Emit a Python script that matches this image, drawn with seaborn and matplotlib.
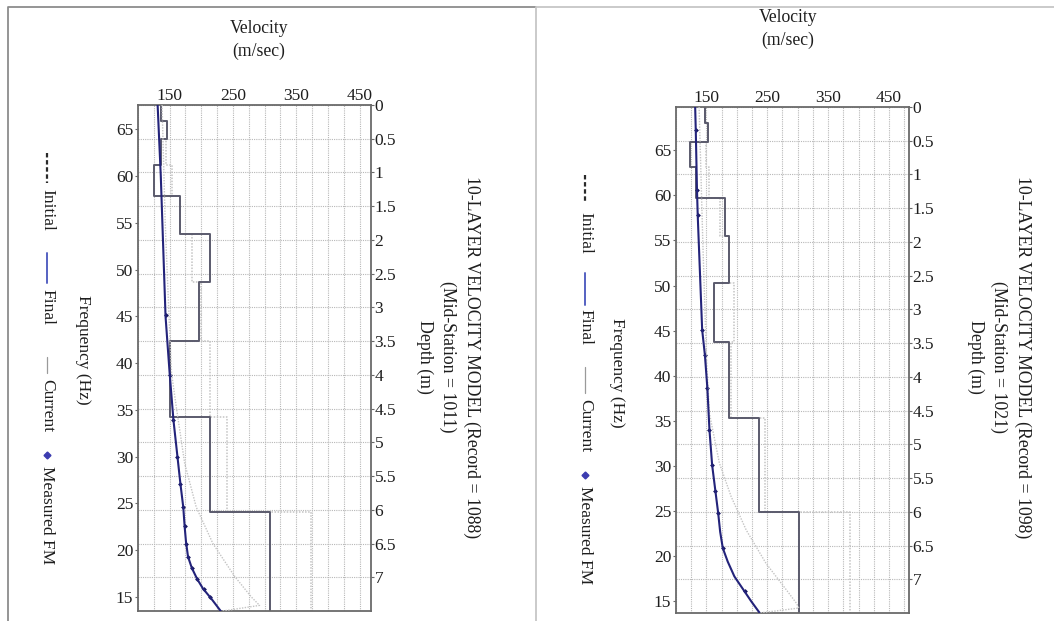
import numpy as np
import matplotlib
matplotlib.use("Agg")
import matplotlib.pyplot as plt
from matplotlib.lines import Line2D
from matplotlib.ticker import MultipleLocator, FixedLocator, FuncFormatter
import seaborn as sns

# ---------------- layered velocity models (depth in m, Vs in m/s) ----------------
left_layer_bounds = [0, 0.23, 0.51, 0.89, 1.35, 1.91, 2.62, 3.50, 4.63, 6.03, 7.5]
left_final_vs = [137, 146, 137, 126, 167, 213, 196, 151, 213, 309]
left_initial_vs = [137, 146, 145, 153, 167, 185, 200, 213, 240, 374]

right_layer_bounds = [0, 0.24, 0.52, 0.89, 1.35, 1.91, 2.61, 3.49, 4.61, 6.00, 7.5]
right_final_vs = [147, 152, 123, 133, 181, 187, 162, 187, 237, 303]
right_initial_vs = [147, 152, 150, 155, 172, 187, 196, 190, 247, 386]

# ---------------- dispersion curves (frequency in Hz, phase velocity in m/s) -------
left_final_freq = [67.6, 60, 50, 45, 41.7, 38.9, 33.9, 30.2, 27.1, 24.6, 22.5,
                   20.9, 19.3, 18.1, 16.9, 15.9, 14.8, 13.5]
left_final_vel = [131, 136, 141, 143.5, 147, 150, 156, 162, 167, 171.5, 173.7,
                  175.8, 179, 185, 193.6, 202.6, 216, 230.6]
left_meas_freq = [45.1, 38.7, 33.9, 30.0, 27.1, 24.6, 22.6, 20.7, 19.3, 18.1,
                  16.9, 15.8, 15.0]
left_meas_vel = [143.5, 150.3, 156, 162.3, 167, 171.5, 173.6, 176, 179, 185,
                 193.6, 203.5, 213]
left_init_freq = [67.6, 55, 45, 38.9, 35.3, 29.3, 24.6, 20.7, 17.2, 15.0, 14.1, 13.5]
left_init_vel = [138, 143, 149, 153, 160.5, 173.7, 192, 218.4, 252.7, 279, 292, 234]

right_final_freq = [69.8, 67.2, 60.6, 57.8, 45.1, 42.3, 38.7, 34.0, 30.1, 27.2,
                    24.8, 22.7, 20.9, 19.4, 17.75, 16.1, 15.0, 13.76]
right_final_vel = [131.5, 132.5, 134.5, 135.7, 143, 147.5, 151.5, 155, 159.4,
                   164.8, 169.3, 172.6, 176.9, 185, 196, 212.6, 223.6, 237]
right_meas_freq = [67.2, 60.6, 57.8, 45.1, 42.3, 38.7, 34.0, 30.1, 27.2, 24.8,
                   20.9, 16.1]
right_meas_vel = [132.5, 134.5, 135.7, 143, 147.5, 151.5, 155, 159.4, 164.8,
                  169.3, 176.9, 212.6]
right_init_freq = [69.8, 55, 42, 35.8, 30.3, 26.6, 22.9, 19.2, 16.3, 14.8, 14.25, 13.7]
right_init_vel = [138, 144, 150, 155, 171.4, 190.7, 215.4, 248, 281, 297.8, 302, 237]

# ---------------- axis settings ----------------
velocity_ticks = [150, 250, 350, 450]
frequency_ticks = [15, 20, 25, 30, 35, 40, 45, 50, 55, 60, 65]
depth_ticks = [0, 0.5, 1, 1.5, 2, 2.5, 3, 3.5, 4, 4.5, 5, 5.5, 6, 6.5, 7]

titles = ["10-LAYER VELOCITY MODEL (Record = 1088)\n(Mid-Station = 1011)\nDepth (m)",
          "10-LAYER VELOCITY MODEL (Record = 1098)\n(Mid-Station = 1021)\nDepth (m)"]
legend_labels = ["Initial", "Final", "Current", "Measured FM"]

sns.set_style("white")
plt.rcParams["font.family"] = ["Liberation Serif", "DejaVu Serif"]
plt.rcParams["font.size"] = 12.5

W, H = 1054, 621
fig = plt.figure(figsize=(W / 100, H / 100), dpi=100)


def fx(x):
    return x / W


def fy(y):
    return 1 - y / H


TEXT = "#1e1e1e"
GRID = "#b8b8b8"
SPINE = "#6a6a6a"
MODEL = "#5a5a6c"
LIGHT = "#c4c4c4"
BLUE = "#23237a"
TICK_FS = 12.5


def layer_steps(bounds, vs):
    depth = np.repeat(np.asarray(bounds, float), 2)[1:-1]
    vel = np.repeat(np.asarray(vs, float), 2)
    return vel, depth


def draw_panel(box, vmax, frange, bounds, final_vs, init_vs,
               ffreq, fvel, mfreq, mvel, ifreq, ivel):
    left, top, right, bottom = box
    ax_d = fig.add_axes([fx(left), fy(bottom), fx(right) - fx(left), fy(top) - fy(bottom)])
    ax_f = ax_d.twinx()

    # velocity (top) / depth (right) axes
    ax_d.set_xlim(100, vmax)
    ax_d.set_ylim(7.5, 0)
    ax_d.xaxis.set_major_locator(FixedLocator(velocity_ticks))
    ax_d.xaxis.set_minor_locator(MultipleLocator(25))
    ax_d.yaxis.set_major_locator(FixedLocator(depth_ticks))
    ax_d.yaxis.set_major_formatter(FuncFormatter(lambda v, p: f"{v:g}"))
    ax_d.xaxis.tick_top()
    ax_d.yaxis.tick_right()
    ax_d.tick_params(axis="x", which="major", length=0, pad=0.5, labelsize=TICK_FS,
                     labelcolor=TEXT)
    ax_d.tick_params(axis="x", which="minor", length=0)
    ax_d.tick_params(axis="y", which="major", length=2, pad=0.5, labelsize=TICK_FS,
                     colors=SPINE, labelcolor=TEXT)
    ax_d.grid(which="both", axis="x", color=GRID, linestyle=(0, (1, 1)), linewidth=0.8)
    ax_d.grid(which="major", axis="y", color=GRID, linestyle=(0, (1, 1)), linewidth=0.8)
    ax_d.set_axisbelow(True)
    for s in ax_d.spines.values():
        s.set_color(SPINE)
        s.set_linewidth(1.3)

    # frequency axis on the left
    ax_f.set_ylim(*frange)
    ax_f.yaxis.set_major_locator(FixedLocator(frequency_ticks))
    ax_f.yaxis.tick_left()
    ax_f.tick_params(axis="y", length=2, pad=1.5, labelsize=TICK_FS,
                     colors=SPINE, labelcolor=TEXT)
    for s in ax_f.spines.values():
        s.set_visible(False)

    # layered models
    iv, idp = layer_steps(bounds, init_vs)
    sns.lineplot(x=iv, y=idp, sort=False, estimator=None, ax=ax_d,
                 color=LIGHT, linewidth=1.1, linestyle=(0, (1, 1)))
    fv, fdp = layer_steps(bounds, final_vs)
    sns.lineplot(x=fv, y=fdp, sort=False, estimator=None, ax=ax_d,
                 color=MODEL, linewidth=1.4)

    # dispersion curves
    sns.lineplot(x=ivel, y=ifreq, sort=False, estimator=None, ax=ax_f,
                 color=LIGHT, linewidth=1.0, linestyle=(0, (1, 1)))
    sns.lineplot(x=fvel, y=ffreq, sort=False, estimator=None, ax=ax_f,
                 color=BLUE, linewidth=1.5)
    sns.scatterplot(x=mvel, y=mfreq, ax=ax_f, color="#15155e", s=6,
                    marker="D", linewidth=0)

    for a in (ax_d, ax_f):
        a.set_xlabel("")
        a.set_ylabel("")
    return ax_d, ax_f


draw_panel((138, 105, 371, 611), 468, (13.5, 67.6), left_layer_bounds,
           left_final_vs, left_initial_vs, left_final_freq, left_final_vel,
           left_meas_freq, left_meas_vel, left_init_freq, left_init_vel)
draw_panel((676, 107, 909, 613), 483, (13.7, 69.8), right_layer_bounds,
           right_final_vs, right_initial_vs, right_final_freq, right_final_vel,
           right_meas_freq, right_meas_vel, right_init_freq, right_init_vel)

# ---------------- axis titles ----------------
for (cx, cy) in [(259, 40), (788, 29)]:
    fig.text(fx(cx), fy(cy), "Velocity\n(m/sec)", ha="center", va="center",
             fontsize=12.7, color=TEXT, linespacing=1.45)

for (cx, cy), title in zip([(448, 357), (999, 357)], titles):
    fig.text(fx(cx), fy(cy), title, rotation=-90, ha="center", va="center",
             multialignment="center", fontsize=12.8, color=TEXT, linespacing=1.45)

for (cx, cy) in [(83, 350), (617, 373)]:
    fig.text(fx(cx), fy(cy), "Frequency (Hz)", rotation=-90, ha="center",
             va="center", fontsize=12.5, color=TEXT)


# ---------------- legend (vertical, reading downwards) ----------------
def vertical_legend(x, layout):
    (d0, d1, t_init), (f0, f1, t_fin), (c0, c1, t_cur), (m0, t_meas) = layout
    fig.add_artist(Line2D([fx(x)] * 2, [fy(d0), fy(d1)], transform=fig.transFigure,
                          color="#2a2a2a", linewidth=1.6, linestyle=(0, (2, 1.2))))
    fig.add_artist(Line2D([fx(x)] * 2, [fy(f0), fy(f1)], transform=fig.transFigure,
                          color="#5561c2", linewidth=1.4))
    fig.add_artist(Line2D([fx(x)] * 2, [fy(c0), fy(c1)], transform=fig.transFigure,
                          color="#9a9a9a", linewidth=0.9))
    fig.add_artist(Line2D([fx(x)], [fy(m0)], transform=fig.transFigure,
                          color="#3c3cb0", marker="D", markersize=3.5, linewidth=0))
    for top, label in zip([t_init, t_fin, t_cur, t_meas], legend_labels):
        fig.text(fx(x), fy(top), label, rotation=-90, ha="center", va="top",
                 fontsize=12.5, color=TEXT)


vertical_legend(47, [(153, 183, 189), (253, 283, 289), (357, 373, 379), (455, 466)])
vertical_legend(585, [(175, 203, 212), (273, 305, 309), (367, 393, 399), (475, 486)])

# ---------------- panel frames ----------------
fig.add_artist(Line2D([fx(8), fx(8), fx(536)], [fy(621), fy(7), fy(7)],
                      transform=fig.transFigure, color="#8c8c8c", linewidth=1.3))
fig.add_artist(Line2D([fx(536), fx(536), fx(1054)], [fy(621), fy(7), fy(7)],
                      transform=fig.transFigure, color="#c6c6c6", linewidth=1.3))

fig.savefig("out.png", dpi=100)
